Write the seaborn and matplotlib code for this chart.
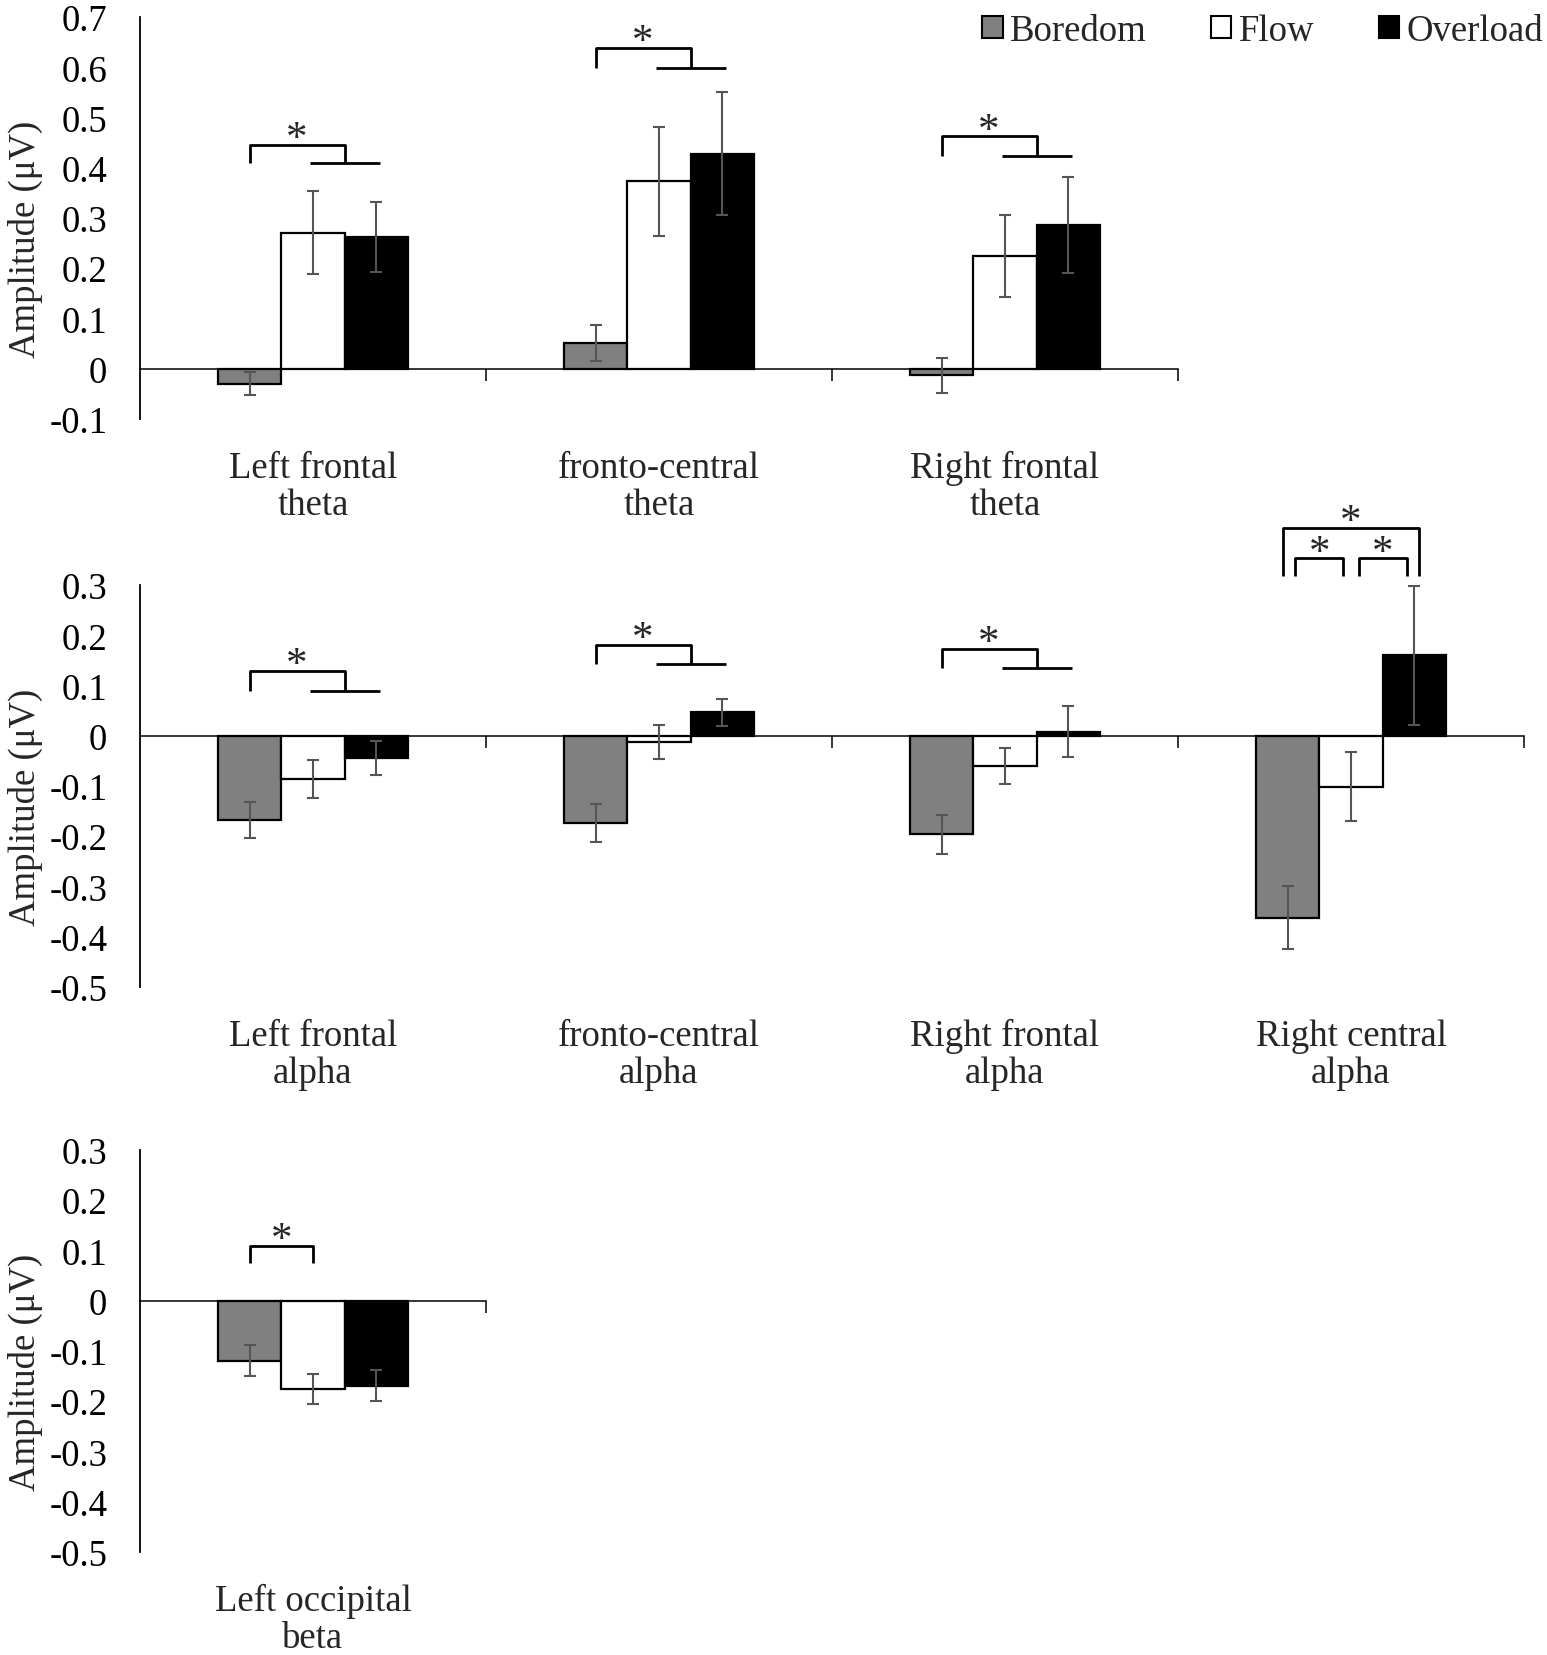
import numpy as np
import pandas as pd
import matplotlib
matplotlib.use('Agg')
import matplotlib.pyplot as plt
import matplotlib.transforms as mtransforms
from matplotlib.patches import Patch
from matplotlib.ticker import FuncFormatter
import seaborn as sns

# Conditions and colours
conditions = ['Boredom', 'Flow', 'Overload']
cond_colors = ['#808080', '#ffffff', '#000000']

# Theta panel
theta_regions = ['Left frontal\ntheta', 'fronto-central\ntheta', 'Right frontal\ntheta']
theta_boredom = [-0.030, 0.052, -0.013]
theta_flow = [0.271, 0.373, 0.224]
theta_overload = [0.262, 0.428, 0.286]
theta_boredom_se = [0.023, 0.036, 0.035]
theta_flow_se = [0.082, 0.108, 0.082]
theta_overload_se = [0.069, 0.122, 0.096]

# Alpha panel
alpha_regions = ['Left frontal\nalpha', 'fronto-central\nalpha', 'Right frontal\nalpha', 'Right central\nalpha']
alpha_boredom = [-0.168, -0.173, -0.196, -0.362]
alpha_flow = [-0.086, -0.013, -0.061, -0.101]
alpha_overload = [-0.044, 0.047, 0.008, 0.160]
alpha_boredom_se = [0.036, 0.038, 0.039, 0.063]
alpha_flow_se = [0.037, 0.034, 0.036, 0.068]
alpha_overload_se = [0.034, 0.027, 0.051, 0.139]

# Beta panel
beta_regions = ['Left occipital\nbeta']
beta_boredom = [-0.119]
beta_flow = [-0.175]
beta_overload = [-0.169]
beta_boredom_se = [0.031]
beta_flow_se = [0.030]
beta_overload_se = [0.031]

# Significance brackets: (kind, region index, first cond, second cond, top y, leg y)
theta_sig = [('split', 0, 0, 0, 0.446, 0.410),
             ('split', 1, 0, 0, 0.638, 0.598),
             ('split', 2, 0, 0, 0.4625, 0.424)]
alpha_sig = [('split', 0, 0, 0, 0.129, 0.090),
             ('split', 1, 0, 0, 0.181, 0.142),
             ('split', 2, 0, 0, 0.173, 0.134),
             ('wide', 3, 0, 2, 0.414, 0.318),
             ('inner', 3, 0, 1, 0.353, 0.318),
             ('inner', 3, 1, 2, 0.353, 0.318)]
beta_sig = [('pair', 0, 0, 1, 0.109, 0.0755)]

sns.set_theme(style='white')
plt.rcParams['font.family'] = ['Liberation Serif', 'DejaVu Serif']
plt.rcParams['axes.unicode_minus'] = False

W, H = 1547, 1656
FS = 26.5
fig = plt.figure(figsize=(W / 100, H / 100), dpi=100)

cat_w = 346 / W
ax_h = 402 / H


def fmt_tick(v, pos):
    if abs(v) < 1e-9:
        return '0'
    return '%.1f' % v


def draw_panel(top_px, regions, b, f, o, b_se, f_se, o_se, ylim, yticks, sig):
    n = len(regions)
    ax = fig.add_axes([140 / W, 1 - (top_px + 402) / H, n * cat_w, ax_h])
    df = pd.DataFrame({'region': regions * 3,
                       'condition': np.repeat(conditions, n),
                       'amp': list(b) + list(f) + list(o)})
    sns.barplot(data=df, x='region', y='amp', hue='condition', order=regions,
                hue_order=conditions, palette=cond_colors, width=0.55,
                edgecolor='black', linewidth=1.6, errorbar=None, legend=False,
                saturation=1, ax=ax)

    # bar centres, in category then condition order
    bars = sorted(ax.patches, key=lambda p: p.get_x())
    xs = [p.get_x() + p.get_width() / 2 for p in bars]
    vals = [p.get_height() for p in bars]
    errs = []
    for i in range(n):
        errs += [b_se[i], f_se[i], o_se[i]]
    ax.errorbar(xs, vals, yerr=errs, fmt='none', ecolor='#555555',
                elinewidth=1.5, capsize=4.2, capthick=1.5, zorder=3)
    centers = [xs[3 * i:3 * i + 3] for i in range(n)]

    # significance brackets
    lw = 2.0
    for kind, r, c1, c2, ytop, yleg in sig:
        c = centers[r]
        if kind == 'split':
            mid = (c[1] + c[2]) / 2
            ax.plot([c[0], c[0], mid, mid], [yleg, ytop, ytop, yleg], color='black', lw=lw,
                    solid_capstyle='butt', clip_on=False)
            ax.plot([c[1] - 0.01, c[2] + 0.01], [yleg, yleg], color='black', lw=lw,
                    solid_capstyle='butt', clip_on=False)
            xstar = (c[0] + mid) / 2
        else:
            inset = {'wide': -0.013, 'inner': 0.022, 'pair': 0.0}[kind]
            x1, x2 = c[c1] + inset, c[c2] - inset
            ax.plot([x1, x1, x2, x2], [yleg, ytop, ytop, yleg], color='black', lw=lw,
                    solid_capstyle='butt', clip_on=False)
            xstar = (x1 + x2) / 2
        ax.annotate('*', xy=(xstar, ytop), xytext=(0, -3), textcoords='offset points',
                    ha='center', va='baseline', fontsize=31, annotation_clip=False)

    ax.set_xlim(-0.5, n - 0.5)
    ax.set_ylim(*ylim)
    ax.set_yticks(yticks)
    ax.yaxis.set_major_formatter(FuncFormatter(fmt_tick))
    ax.tick_params(axis='y', length=0, pad=23.5, labelsize=FS, colors='black')
    ax.set_xticks(np.arange(0.5, n, 1))
    ax.set_xticklabels([])
    ax.tick_params(axis='x', direction='out', length=8.5, width=1.1, color='black')
    ax.xaxis.set_ticks_position('bottom')
    ax.set_xlabel('')

    for s in ['top', 'right']:
        ax.spines[s].set_visible(False)
    ax.spines['bottom'].set_position(('data', 0))
    ax.spines['bottom'].set_color('black')
    ax.spines['bottom'].set_linewidth(1.1)
    ax.spines['left'].set_color('black')
    ax.spines['left'].set_linewidth(1.3)
    ax.set_facecolor('none')

    ax.set_ylabel('Amplitude (μV)', fontsize=FS, va='center')
    ax.yaxis.set_label_coords(25 / W, 0.45,
                              transform=mtransforms.blended_transform_factory(fig.transFigure, ax.transAxes))

    trans = mtransforms.blended_transform_factory(ax.transData, ax.transAxes)
    for i, lab in enumerate(regions):
        ax.text(i, -31 / 402, lab, transform=trans, ha='center', va='top',
                fontsize=FS, linespacing=1.1)
    return ax


draw_panel(18, theta_regions, theta_boredom, theta_flow, theta_overload,
           theta_boredom_se, theta_flow_se, theta_overload_se,
           (-0.1, 0.7), np.arange(-0.1, 0.71, 0.1), theta_sig)
draw_panel(586, alpha_regions, alpha_boredom, alpha_flow, alpha_overload,
           alpha_boredom_se, alpha_flow_se, alpha_overload_se,
           (-0.5, 0.3), np.arange(-0.5, 0.31, 0.1), alpha_sig)
draw_panel(1151, beta_regions, beta_boredom, beta_flow, beta_overload,
           beta_boredom_se, beta_flow_se, beta_overload_se,
           (-0.5, 0.3), np.arange(-0.5, 0.31, 0.1), beta_sig)

handles = [Patch(facecolor=c, edgecolor='black', linewidth=1.5) for c in cond_colors]
fig.legend(handles, conditions, loc='center right', bbox_to_anchor=(1543 / W, 1 - 31.5 / H),
           ncol=3, frameon=False, fontsize=FS, handlelength=0.55, handleheight=0.55,
           handletextpad=0.2, columnspacing=1.75, borderaxespad=0, borderpad=0)

fig.savefig('out.png', dpi=100, facecolor='white')
